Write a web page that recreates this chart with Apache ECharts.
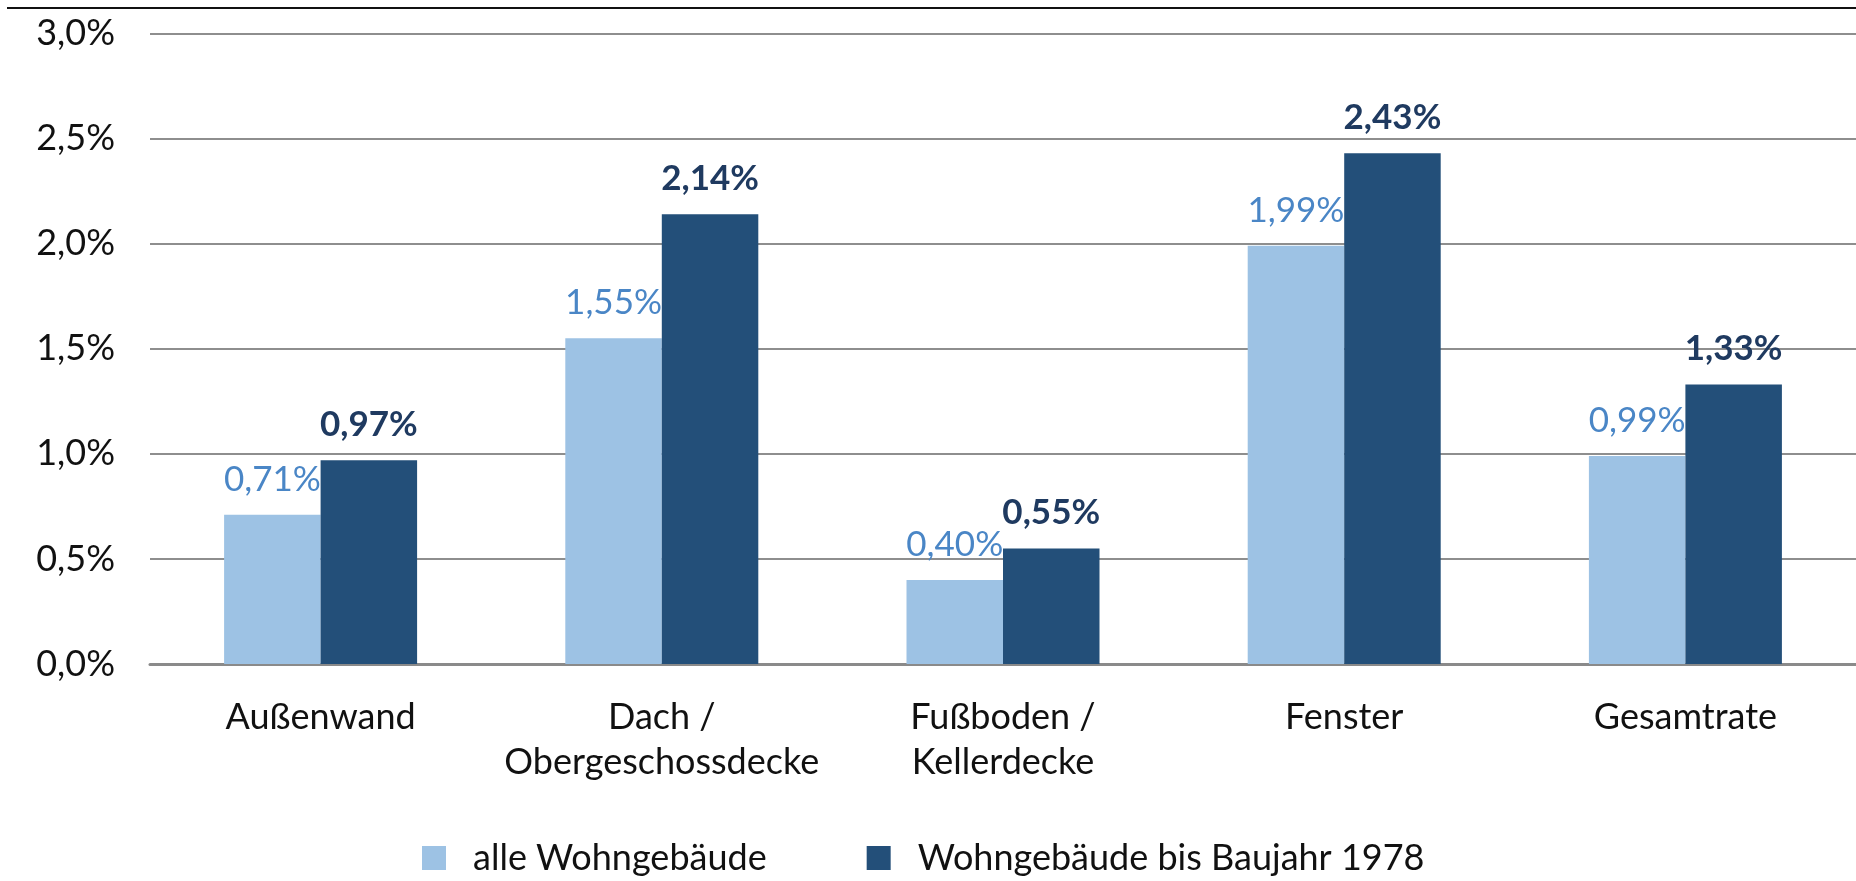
<!DOCTYPE html>
<html>
<head>
<meta charset="utf-8">
<title>Sanierungsraten</title>
<script src="https://cdn.jsdelivr.net/npm/echarts@6/dist/echarts.min.js"></script>
<style>
    html, body { margin: 0; padding: 0; background: #ffffff; }
    #chart { width: 1856px; height: 881px; }
</style>
</head>
<body>
<div id="chart"></div>
<script>
const categories = [
    "Außenwand",
    "Dach /\nObergeschossdecke",
    "Fußboden /\nKellerdecke",
    "Fenster",
    "Gesamtrate",
];
const series_names = ["alle Wohngebäude", "Wohngebäude bis Baujahr 1978"];
const all_buildings = [0.71, 1.55, 0.40, 1.99, 0.99];
const pre_1978 = [0.97, 2.14, 0.55, 2.43, 1.33];
const y_ticks = [0, 0.5, 1.0, 1.5, 2.0, 2.5, 3.0];

const FONT = "Lato";
const LIGHT = "#9dc2e4";
const DARK = "#234f79";

// german decimal comma
const pct = (v, digits) => v.toFixed(digits).replace(".", ",") + "%";

const chart = echarts.init(document.getElementById("chart"), null, { renderer: "canvas" });

chart.setOption({
    animation: false,
    backgroundColor: "#ffffff",
    textStyle: { fontFamily: FONT },
    grid: { left: 150, right: -9, top: 33.5, bottom: 217 },
    // thin frame line across the top of the picture
    graphic: [{
        type: "line",
        shape: { x1: 7, y1: 8, x2: 1856, y2: 8 },
        style: { stroke: "#111111", lineWidth: 2 },
    }],
    legend: {
        left: 417,
        top: 835,
        icon: "rect",
        itemWidth: 24,
        itemHeight: 24,
        itemGap: 100,
        textStyle: { fontFamily: FONT, fontSize: 36, color: "#111111", padding: [0, 0, 0, 22] },
        data: series_names,
    },
    xAxis: {
        type: "category",
        data: categories,
        axisLine: { lineStyle: { color: "#8a8a8a", width: 3 } },
        axisTick: { length: 14, lineStyle: { color: "#8a8a8a", width: 2 } },
        axisLabel: {
            interval: 0, fontFamily: FONT, fontSize: 36, color: "#111111",
            lineHeight: 45, margin: 31,
        },
    },
    yAxis: {
        type: "value",
        min: y_ticks[0],
        max: y_ticks[y_ticks.length - 1],
        interval: 0.5,
        axisLine: { show: false },
        axisTick: { show: false },
        splitLine: { lineStyle: { color: "#8e8e8e", width: 2 } },
        axisLabel: {
            fontFamily: FONT, fontSize: 36, color: "#111111", margin: 35,
            formatter: (v) => pct(v, 1),
        },
    },
    series: [
        {
            name: series_names[0],
            type: "bar",
            data: all_buildings,
            barWidth: 96.5,
            barGap: "0%",
            itemStyle: { color: LIGHT },
            label: {
                show: true, position: "top", distance: 18,
                fontFamily: FONT, fontSize: 35, color: "#4a86c6",
                formatter: (p) => pct(p.value, 2),
            },
        },
        {
            name: series_names[1],
            type: "bar",
            data: pre_1978,
            barWidth: 96.5,
            barGap: "0%",
            itemStyle: { color: DARK },
            label: {
                show: true, position: "top", distance: 18,
                fontFamily: FONT, fontSize: 35, fontWeight: "bold", color: "#1f3a60",
                formatter: (p) => pct(p.value, 2),
            },
        },
    ],
});
</script>
</body>
</html>
